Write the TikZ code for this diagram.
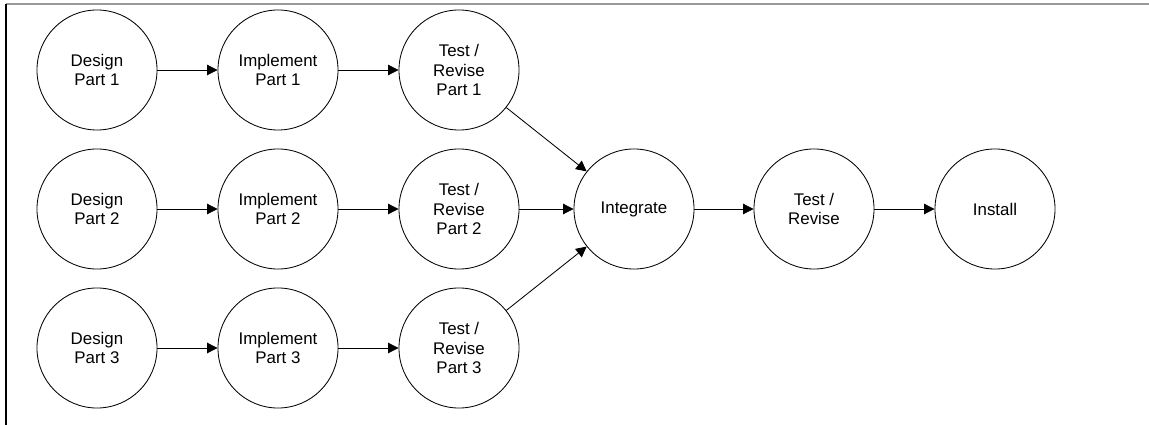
\documentclass[tikz,border=0pt]{standalone}
\usepackage{fontspec}
\setmainfont{Liberation Sans}
\usetikzlibrary{arrows.meta,positioning,calc}

\begin{document}
\begin{tikzpicture}[x=0.025cm, y=-0.025cm,
    stage/.style={circle, draw=black, line width=0.6pt, minimum size=3cm, inner sep=0pt, align=center, font=\fontsize{12}{14}\selectfont},
    arrow/.style={-{Triangle[length=7.5pt, width=7.5pt]}, line width=0.6pt, black}
]
    \useasboundingbox (0,0) rectangle (1149,425);
    % frame
    \draw[gray!80, line width=1.2pt] (6,4) -- (1149,4);
    \draw[black, line width=0.8pt] (6,4) -- (6,425);

    % three parallel parts
    \node[stage] (d1) at (97,70) {Design\\Part 1};
    \node[stage] (i1) at (278,70) {Implement\\Part 1};
    \node[stage] (t1) at (459,70) {Test /\\Revise\\Part 1};

    \node[stage] (d2) at (97,209) {Design\\Part 2};
    \node[stage] (i2) at (278,209) {Implement\\Part 2};
    \node[stage] (t2) at (459,209) {Test /\\Revise\\Part 2};

    \node[stage] (d3) at (97,348) {Design\\Part 3};
    \node[stage] (i3) at (278,348) {Implement\\Part 3};
    \node[stage] (t3) at (459,348) {Test /\\Revise\\Part 3};

    % final stages
    \node[stage] (int) at (634,209) {Integrate};
    \node[stage] (tr) at (814,209) {Test /\\Revise};
    \node[stage] (inst) at (995,209) {Install};

    \draw[arrow] (d1) -- (i1);
    \draw[arrow] (i1) -- (t1);
    \draw[arrow] (d2) -- (i2);
    \draw[arrow] (i2) -- (t2);
    \draw[arrow] (d3) -- (i3);
    \draw[arrow] (i3) -- (t3);

    \draw[arrow] (t1) -- (int);
    \draw[arrow] (t2) -- (int);
    \draw[arrow] (t3) -- (int);

    \draw[arrow] (int) -- (tr);
    \draw[arrow] (tr) -- (inst);
\end{tikzpicture}
\end{document}
